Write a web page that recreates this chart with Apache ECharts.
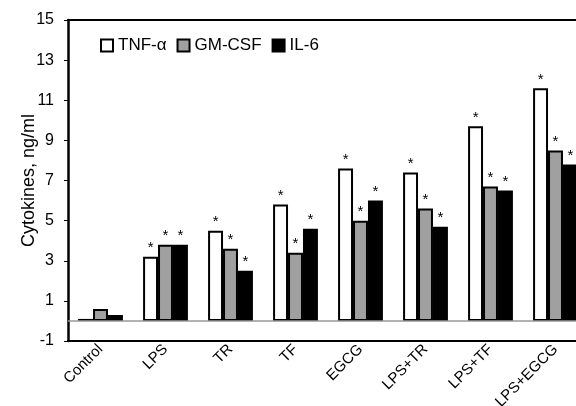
<!DOCTYPE html>
<html><head><meta charset="utf-8">
<script src="https://cdn.jsdelivr.net/npm/echarts@6/dist/echarts.min.js"></script>
<style>html,body{margin:0;padding:0;background:#fff}#c{width:576px;height:406px}</style>
</head><body><div id="c"></div>
<script>
const categories = ['Control','LPS','TR','TF','EGCG','LPS+TR','LPS+TF','LPS+EGCG'];
const tnf = [0.1, 3.2, 4.5, 5.8, 7.6, 7.4, 9.7, 11.6];
const gmcsf = [0.6, 3.8, 3.6, 3.4, 5.0, 5.6, 6.7, 8.5];
const il6 = [0.3, 3.8, 2.5, 4.6, 6.0, 4.7, 6.5, 7.8];
const significant = [false, true, true, true, true, true, true, true];
const yTicks = [-1, 1, 3, 5, 7, 9, 11, 13, 15];

const font = 'Liberation Sans, Arial, sans-serif';
function mk(name, data, color, isFirst) {
  const s = {
    name, type: 'bar', data,
    barGap: '0%', barCategoryGap: '31%',
    itemStyle: { color, borderColor: '#000', borderWidth: 2 },
    label: {
      show: true, position: 'top', distance: 1,
      formatter: p => significant[p.dataIndex] ? '*' : '',
      fontSize: 15, color: '#000', fontFamily: font
    }
  };
  if (isFirst) {
    s.markLine = {
      silent: true, symbol: 'none', label: { show: false },
      lineStyle: { color: '#999', width: 1.5, type: 'solid' },
      data: [{ yAxis: 0 }]
    };
  }
  return s;
}
const chart = echarts.init(document.getElementById('c'));
chart.setOption({
  animation: false,
  backgroundColor: '#fff',
  grid: { left: 68, right: -12, top: 20, bottom: 65, containLabel: false, outerBoundsMode: 'none' },
  legend: {
    left: 95, top: 32, itemWidth: 12, itemHeight: 12, itemGap: 10, icon: 'rect',
    textStyle: { fontSize: 17, fontFamily: font, color: '#000' },
    data: ['TNF-α', 'GM-CSF', 'IL-6']
  },
  xAxis: [{
    type: 'category', data: categories,
    axisLine: { onZero: false, lineStyle: { color: '#000', width: 2 } },
    axisTick: { show: false },
    axisLabel: { rotate: 45, fontSize: 15, fontFamily: font, color: '#000', margin: 6, interval: 0 }
  }, {
    type: 'category', data: categories, position: 'top',
    axisLine: { show: true, onZero: false, lineStyle: { color: '#000', width: 2 } },
    axisTick: { show: false }, axisLabel: { show: false }
  }],
  yAxis: {
    type: 'value', min: -1, max: 15,
    name: 'Cytokines, ng/ml', nameLocation: 'middle', nameGap: 30, nameMoveOverlap: false,
    nameTextStyle: { fontSize: 18, fontFamily: font, color: '#000' },
    axisLine: { show: true, lineStyle: { color: '#000', width: 2.5 } },
    axisTick: { show: true, length: 4, customValues: yTicks, lineStyle: { color: '#000' } },
    axisLabel: { customValues: yTicks, fontSize: 16, fontFamily: font, color: '#000', margin: 14 },
    splitLine: { show: false }
  },
  series: [
    mk('TNF-α', tnf, '#ffffff', true),
    mk('GM-CSF', gmcsf, '#a0a0a0', false),
    mk('IL-6', il6, '#000000', false)
  ]
});
</script></body></html>
